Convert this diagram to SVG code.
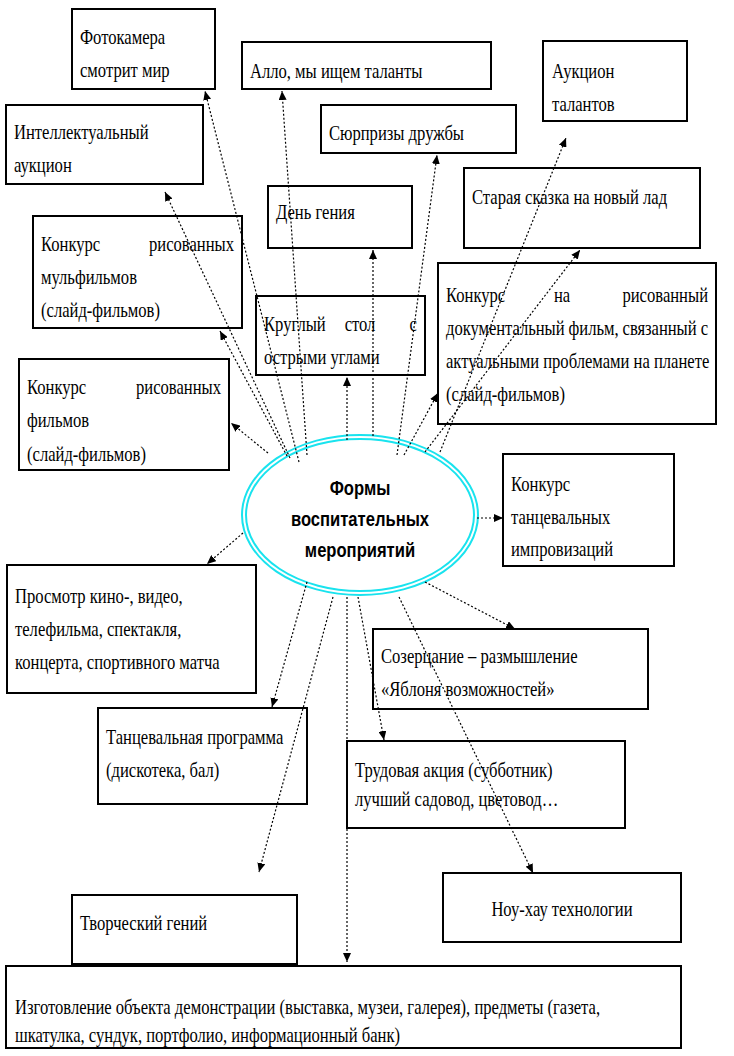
<svg xmlns="http://www.w3.org/2000/svg" width="734" height="1056" viewBox="0 0 734 1056">
<style>
.box{fill:#fff;stroke:#000;stroke-width:2}
.t{font-family:"Liberation Serif","Times New Roman",serif;font-size:20px;fill:#000}
.e{font-family:"Liberation Sans",Arial,sans-serif;font-weight:bold;font-size:20px;fill:#000;text-anchor:middle}
.c{stroke:#000;stroke-width:1.2;stroke-dasharray:2 2;fill:none;marker-end:url(#ah)}
.ring{fill:none;stroke:#19e3ee;stroke-width:2}
</style>
<defs>
<marker id="ah" markerUnits="userSpaceOnUse" markerWidth="10" markerHeight="8" refX="9" refY="4" orient="auto">
<path d="M0,0 L9,4 L0,8 z" fill="#000"/>
</marker>
</defs>
<rect width="734" height="1056" fill="#fff"/>

<g id="center">
<ellipse cx="360" cy="515" rx="118" ry="80" fill="#fff" class="ring"/>
<ellipse cx="360" cy="515" rx="114" ry="76" class="ring"/>
<g transform="translate(360 0) scale(0.83 1)">
<text class="e" x="0" y="495">Формы</text>
<text class="e" x="0" y="526">воспитательных</text>
<text class="e" x="0" y="557">мероприятий</text>
</g>
</g>

<g id="n-photo">
<rect class="box" x="72" y="9" width="143" height="80"/>
<g transform="translate(80 0) scale(0.83 1)"><text class="t" y="44">Фотокамера</text><text class="t" y="77">смотрит мир</text></g>
</g>

<g id="n-allo">
<rect class="box" x="242" y="42" width="249" height="47"/>
<g transform="translate(250 0) scale(0.83 1)"><text class="t" y="78">Алло, мы ищем таланты</text></g>
</g>

<g id="n-intel">
<rect class="box" x="6" y="105" width="197" height="79"/>
<g transform="translate(14 0) scale(0.83 1)"><text class="t" y="139">Интеллектуальный</text><text class="t" y="172">аукцион</text></g>
</g>

<g id="n-surprise">
<rect class="box" x="321" y="105" width="195" height="48"/>
<g transform="translate(329 0) scale(0.83 1)"><text class="t" y="140">Сюрпризы дружбы</text></g>
</g>

<g id="n-auction">
<rect class="box" x="543" y="41" width="144" height="80"/>
<g transform="translate(552 0) scale(0.83 1)"><text class="t" y="78">Аукцион</text><text class="t" y="111">талантов</text></g>
</g>

<g id="n-tale">
<rect class="box" x="464" y="168" width="236" height="80"/>
<g transform="translate(472 0) scale(0.83 1)"><text class="t" y="204">Старая сказка на новый лад</text></g>
</g>

<g id="n-genius-day">
<rect class="box" x="268" y="186" width="144" height="62"/>
<g transform="translate(276 0) scale(0.83 1)"><text class="t" y="219">День гения</text></g>
</g>

<g id="n-cartoons">
<rect class="box" x="33" y="216" width="209" height="112"/>
<g transform="translate(41 0) scale(0.83 1)">
<text class="t" y="251">Конкурс</text><text class="t" x="232.5" y="251" text-anchor="end">рисованных</text>
<text class="t" y="284">мульфильмов</text>
<text class="t" y="317">(слайд-фильмов)</text>
</g>
</g>

<g id="n-roundtable">
<rect class="box" x="256" y="296" width="169" height="79"/>
<g transform="translate(264 0) scale(0.83 1)">
<text class="t" y="331">Круглый</text><text class="t" x="115.7" y="331" text-anchor="middle">стол</text><text class="t" x="184.3" y="331" text-anchor="end">с</text>
<text class="t" y="364">острыми углами</text>
</g>
</g>

<g id="n-documentary">
<rect class="box" x="438" y="263" width="278" height="161"/>
<g transform="translate(446 0) scale(0.83 1)">
<text class="t" y="302">Конкурс</text><text class="t" x="139.8" y="302" text-anchor="middle">на</text><text class="t" x="315.7" y="302" text-anchor="end">рисованный</text>
<text class="t" y="335" textLength="315.7" lengthAdjust="spacing">документальный фильм, связанный с</text>
<text class="t" y="368">актуальными проблемами на планете</text>
<text class="t" y="401">(слайд-фильмов)</text>
</g>
</g>

<g id="n-films">
<rect class="box" x="19" y="359" width="210" height="111"/>
<g transform="translate(27 0) scale(0.83 1)">
<text class="t" y="394">Конкурс</text><text class="t" x="233.7" y="394" text-anchor="end">рисованных</text>
<text class="t" y="427">фильмов</text>
<text class="t" y="461">(слайд-фильмов)</text>
</g>
</g>

<g id="n-dance-improv">
<rect class="box" x="503" y="454" width="171" height="112"/>
<g transform="translate(511 0) scale(0.83 1)">
<text class="t" y="491">Конкурс</text>
<text class="t" y="524">танцевальных</text>
<text class="t" y="556">импровизаций</text>
</g>
</g>

<g id="n-viewing">
<rect class="box" x="7" y="565" width="249" height="128"/>
<g transform="translate(15 0) scale(0.83 1)">
<text class="t" y="603">Просмотр кино-, видео,</text>
<text class="t" y="636">телефильма, спектакля,</text>
<text class="t" y="669">концерта, спортивного матча</text>
</g>
</g>

<g id="n-contemplation">
<rect class="box" x="373" y="629" width="275" height="80"/>
<g transform="translate(381 0) scale(0.83 1)">
<text class="t" y="663">Созерцание – размышление</text>
<text class="t" y="696">«Яблоня возможностей»</text>
</g>
</g>

<g id="n-dance-program">
<rect class="box" x="98" y="708" width="209" height="96"/>
<g transform="translate(106 0) scale(0.83 1)">
<text class="t" y="744">Танцевальная программа</text>
<text class="t" y="777">(дискотека, бал)</text>
</g>
</g>

<g id="n-labour">
<rect class="box" x="347" y="741" width="278" height="87"/>
<g transform="translate(355 0) scale(0.83 1)">
<text class="t" y="777">Трудовая акция (субботник)</text>
<text class="t" y="806">лучший садовод, цветовод…</text>
</g>
</g>

<g id="n-knowhow">
<rect class="box" x="443" y="873" width="238" height="69"/>
<g transform="translate(562 0) scale(0.83 1)"><text class="t" y="916" text-anchor="middle">Ноу-хау технологии</text></g>
</g>

<g id="n-creative">
<rect class="box" x="72" y="895" width="225" height="69"/>
<g transform="translate(80 0) scale(0.83 1)"><text class="t" y="930">Творческий гений</text></g>
</g>

<g id="n-making">
<rect class="box" x="6" y="966" width="675" height="82"/>
<g transform="translate(15 0) scale(0.83 1)">
<text class="t" y="1014">Изготовление объекта демонстрации (выставка, музеи, галерея), предметы (газета,</text>
<text class="t" y="1042">шкатулка, сундук, портфолио, информационный банк)</text>
</g>
</g>

<g id="connectors">
<line class="c" x1="299" y1="462" x2="205" y2="91"/>
<line class="c" x1="290" y1="458" x2="165" y2="192"/>
<line class="c" x1="307" y1="455" x2="282" y2="91"/>
<line class="c" x1="287" y1="456" x2="220" y2="331"/>
<line class="c" x1="268" y1="453" x2="231" y2="423"/>
<line class="c" x1="347" y1="440" x2="347" y2="377"/>
<line class="c" x1="373" y1="436" x2="373" y2="250"/>
<line class="c" x1="397" y1="455" x2="437" y2="155"/>
<line class="c" x1="440" y1="452" x2="566" y2="138"/>
<line class="c" x1="425" y1="452" x2="580" y2="250"/>
<line class="c" x1="404" y1="455" x2="438" y2="393"/>
<line class="c" x1="477" y1="518" x2="503" y2="518"/>
<line class="c" x1="425" y1="582" x2="515" y2="629"/>
<line class="c" x1="399" y1="597" x2="533" y2="873"/>
<line class="c" x1="358" y1="597" x2="384" y2="740"/>
<line class="c" x1="347" y1="597" x2="347" y2="962"/>
<line class="c" x1="333" y1="597" x2="259" y2="872"/>
<line class="c" x1="307" y1="582" x2="272" y2="707"/>
<line class="c" x1="243" y1="533" x2="207" y2="564"/>
</g>
</svg>
